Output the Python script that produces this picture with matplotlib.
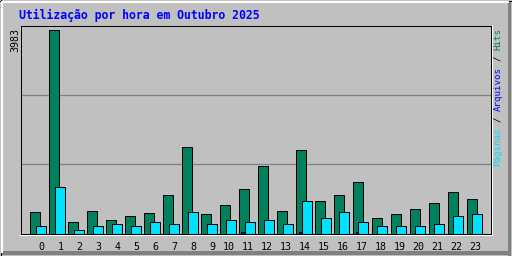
import numpy as np
from matplotlib import pyplot as plt
from matplotlib.lines import Line2D
from matplotlib.patches import Rectangle

# hourly stats, Outubro 2025
hours = np.arange(24)
hits = [429, 3983, 234, 449, 254, 351, 410, 761, 1698, 371, 566, 878,
        1327, 449, 1640, 625, 742, 996, 293, 371, 488, 586, 820, 664]
files = [0, 0, 0, 0, 0, 0, 0, 0, 0, 0, 0, 20,
         0, 0, 20, 0, 0, 20, 0, 0, 0, 0, 0, 0]
pages = [156, 917, 59, 156, 195, 156, 215, 176, 429, 176, 273, 215,
         273, 176, 625, 293, 429, 215, 156, 156, 156, 195, 332, 390]
hour_labels = [str(h) for h in hours]

title = "Utilização por hora em Outubro 2025"
legend_parts = [("Páginas", "#00E0FF"), ("/", "black"),
                ("Arquivos", "#0000FF"), ("/", "black"), ("Hits", "#00805C")]

W, H = 512, 256
BG = "#C0C0C0"
MONO = "DejaVu Sans Mono"

fig = plt.figure(figsize=(W / 100, H / 100), dpi=100, facecolor=BG)


def fx(px):
    return px / W


def fy(py):
    return 1 - py / H


# outer 3d border
fig.add_artist(Line2D([0, 1], [fy(0.5), fy(0.5)], color="black", lw=0.72))
fig.add_artist(Line2D([fx(0.5), fx(0.5)], [0, 1], color="black", lw=0.72))
fig.add_artist(Line2D([fx(1.5), fx(508)], [fy(2), fy(2)], color="white", lw=1.5))
fig.add_artist(Line2D([fx(1.5), fx(1.5)], [fy(2), fy(252)], color="white", lw=1.5))
fig.add_artist(Rectangle((fx(508), 0), fx(3), fy(2), color="#808080", lw=0))
fig.add_artist(Rectangle((fx(1), fy(255)), fx(510), 4 / H, color="#808080", lw=0))
fig.add_artist(Line2D([0, 1], [fy(255.5), fy(255.5)], color="black", lw=0.72))
fig.add_artist(Line2D([fx(511.5), fx(511.5)], [0, 1], color="black", lw=0.72))

ax = fig.add_axes([fx(20.5), fy(233.5), 470 / W, 208 / H])
ax.set_facecolor(BG)
for sp in ax.spines.values():
    sp.set_color("black")
    sp.set_linewidth(0.72)

# white lines right/bottom of the plot frame
fig.add_artist(Line2D([fx(491.5), fx(491.5)], [fy(25), fy(235)], color="white", lw=0.72))
fig.add_artist(Line2D([fx(20), fx(491.5)], [fy(234.5), fy(234.5)], color="white", lw=0.72))

ymax = max(hits) * 208 / 204
ax.set_ylim(0, ymax)
ax.set_xlim(-9 / 19, -9 / 19 + 470 / 19)

for k in (1, 2):
    ax.axhline(ymax * k / 3, color="#808080", lw=0.9, zorder=1)

bw = 10 / 19
ax.bar(hours, hits, width=bw, align="edge", color="#00805C",
       edgecolor="black", linewidth=0.72, zorder=2)
fidx = [i for i in hours if files[i] > 0]
ax.bar(hours[fidx] + 3 / 19, [files[i] for i in fidx], width=bw, align="edge",
       color="#0000FF", edgecolor="black", linewidth=0.72, zorder=3)
ax.bar(hours + 6 / 19, pages, width=bw, align="edge", color="#00E0FF",
       edgecolor="black", linewidth=0.72, zorder=4)

ax.set_yticks([])
ax.set_xticks(hours + 15 / 19, hour_labels, ha="right", fontsize=7.2,
              family=MONO)
ax.tick_params(axis="x", length=0, pad=6)

fig.text(fx(19), fy(19), title, color="#0000FF", fontsize=8.3,
         fontweight="bold", family=MONO, va="baseline", ha="left")
fig.text(fx(15), fy(28), f"{max(hits)}", rotation=90, fontsize=7.2,
         family=MONO, ha="center", va="top")

# legend, rotated, built from coloured pieces
fs = 6.6
adv = 0.602 * fs * 100 / 72
pos = 0
for txt, col in legend_parts:
    fig.text(fx(498), fy(166 - pos * adv), txt, rotation=90, fontsize=fs,
             family=MONO, color=col, ha="center", va="bottom")
    pos += len(txt) + 1

fig.savefig("out.png", dpi=100, facecolor=BG)
